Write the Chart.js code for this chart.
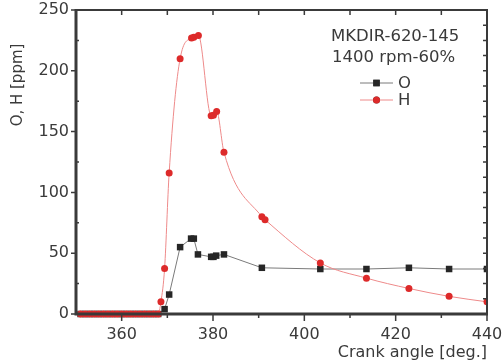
<!DOCTYPE html>
<html>
<head>
<meta charset="utf-8">
<script src="https://cdn.jsdelivr.net/npm/chart.js@4.4.0/dist/chart.umd.min.js"></script>
<style>
  body { margin: 0; background: #fff; }
  #wrap { width: 503px; height: 364px; }
</style>
</head>
<body>
<div id="wrap"><canvas id="chart" width="503" height="364"></canvas></div>
<script>
// data
const zeroAngle = [351, 352, 353, 354, 355, 356, 357, 358, 359, 360, 361, 362, 363, 364, 365, 366, 367, 368];
const oAngle = zeroAngle.concat([369.4, 370.4, 372.8, 375.2, 375.8, 376.7, 379.6, 380.1, 380.7, 382.4, 390.7, 403.5, 413.6, 422.9, 431.7, 440]);
const oValue = zeroAngle.map(() => 0).concat([4, 16, 55, 62, 62, 49, 47, 47, 48, 49, 38, 37, 37, 38, 37, 37]);
const hAngle = zeroAngle.concat([368.6, 369.4, 370.4, 372.8, 375.3, 375.8, 376.8, 379.6, 380.1, 380.8, 382.4, 390.7, 391.4, 403.5, 413.6, 422.9, 431.7, 440]);
const hValue = zeroAngle.map(() => 0).concat([10, 37.5, 116, 210, 227, 227.5, 229, 163, 163.5, 166.5, 133, 80, 77.5, 42, 29.5, 21, 14.5, 10]);
const xTicks = [360, 380, 400, 420, 440];
const yTicks = [0, 50, 100, 150, 200, 250];
const legendLines = ['MKDIR-620-145', '1400 rpm-60%'];

const FONT = '"DejaVu Sans", sans-serif';
const INK = '#3a3a3a';

const toPts = (xs, ys) => xs.map((x, i) => ({ x: x, y: ys[i] }));

// frame, tick marks, y title and legend
const decor = {
  id: 'decor',
  afterDatasetsDraw(chart) {
    const ctx = chart.ctx;
    const a = chart.chartArea;
    const xs = chart.scales.x, ys = chart.scales.y;
    ctx.save();
    ctx.strokeStyle = INK;

    // ticks
    ctx.lineWidth = 1.5;
    ctx.beginPath();
    for (let v = 360; v <= 440; v += 10) {
      const px = xs.getPixelForValue(v);
      const major = v % 20 === 0;
      ctx.moveTo(px, a.bottom); ctx.lineTo(px, a.bottom + (major ? 7 : 4));
      ctx.moveTo(px, a.top); ctx.lineTo(px, a.top + 5);
    }
    for (let v = 0; v <= 250; v += 25) {
      const py = ys.getPixelForValue(v);
      if (v % 50 === 0) { ctx.moveTo(a.left, py); ctx.lineTo(a.left - 5, py); }
      else { ctx.moveTo(a.left, py); ctx.lineTo(a.left + 3, py); }
    }
    for (let v = 12.5; v < 250; v += 12.5) {
      const py = ys.getPixelForValue(v);
      ctx.moveTo(a.right, py); ctx.lineTo(a.right - 4, py);
    }
    ctx.stroke();

    // frame
    ctx.lineWidth = 2;
    ctx.beginPath();
    ctx.moveTo(a.left, a.top); ctx.lineTo(a.right, a.top); ctx.lineTo(a.right, a.bottom);
    ctx.stroke();
    ctx.lineWidth = 3;
    ctx.beginPath();
    ctx.moveTo(a.left, a.top - 1); ctx.lineTo(a.left, a.bottom); ctx.lineTo(a.right + 1, a.bottom);
    ctx.stroke();

    // y title
    ctx.fillStyle = INK;
    ctx.font = '15px ' + FONT;
    ctx.translate(18, 85);
    ctx.rotate(-Math.PI / 2);
    ctx.textAlign = 'center';
    ctx.textBaseline = 'middle';
    ctx.fillText('O, H [ppm]', 0, 0);
    ctx.restore();

    // legend
    ctx.save();
    ctx.fillStyle = INK;
    ctx.font = '16.5px ' + FONT;
    ctx.textBaseline = 'middle';
    ctx.fillText(legendLines[0], 331, 37);
    ctx.fillText(legendLines[1], 332, 58);
    const rows = [83, 100];
    chart.data.datasets.forEach((ds, i) => {
      const y = rows[i];
      ctx.strokeStyle = ds.borderColor;
      ctx.lineWidth = 1;
      ctx.beginPath(); ctx.moveTo(360, y); ctx.lineTo(393, y); ctx.stroke();
      Chart.helpers.drawPoint(ctx, {
        pointStyle: ds.pointStyle, radius: ds.pointRadius, rotation: 0, borderWidth: 0
      }, 376.5, y);
      ctx.fillStyle = ds.pointBackgroundColor;
      ctx.fill();
      ctx.fillStyle = INK;
      ctx.fillText(ds.label, 398, y + 1);
    });
    ctx.restore();
  }
};

new Chart(document.getElementById('chart').getContext('2d'), {
  type: 'line',
  data: {
    datasets: [{
      label: 'O',
      data: toPts(oAngle, oValue),
      borderColor: '#7a7a7a',
      borderWidth: 1,
      pointStyle: 'rect',
      pointRadius: 4.6,
      pointBackgroundColor: '#262626',
      pointBorderWidth: 0,
      tension: 0,
      clip: { left: 10, top: 10, right: 0, bottom: 10 },
      order: 2
    }, {
      label: 'H',
      data: toPts(hAngle, hValue),
      borderColor: '#ee8a8a',
      borderWidth: 1,
      pointStyle: 'circle',
      pointRadius: 3.5,
      pointBackgroundColor: '#dd2a2a',
      pointBorderWidth: 0,
      cubicInterpolationMode: 'monotone',
      clip: { left: 10, top: 10, right: 0, bottom: 10 },
      order: 1
    }]
  },
  options: {
    responsive: false,
    animation: false,
    layout: { padding: { left: 0, right: 16, top: 10, bottom: 0 } },
    plugins: { legend: { display: false }, tooltip: { enabled: false } },
    scales: {
      x: {
        type: 'linear',
        min: 350,
        max: 440,
        afterBuildTicks: s => { s.ticks = xTicks.map(v => ({ value: v })); },
        afterFit: s => { s.height = 50; s.paddingLeft = 0; s.paddingRight = 0; },
        grid: { display: false, drawTicks: false },
        border: { display: false },
        ticks: { color: INK, font: { size: 16, family: FONT }, padding: 11, maxRotation: 0 },
        title: {
          display: true,
          text: 'Crank angle [deg.]',
          align: 'end',
          color: INK,
          font: { size: 16, family: FONT },
          padding: { top: 0, bottom: 2 }
        }
      },
      y: {
        min: 0,
        max: 250,
        afterBuildTicks: s => { s.ticks = yTicks.map(v => ({ value: v })); },
        afterFit: s => { s.width = 76; s.paddingTop = 0; s.paddingBottom = 0; },
        grid: { display: false, drawTicks: false },
        border: { display: false },
        ticks: { color: INK, font: { size: 16, family: FONT }, padding: 7 }
      }
    }
  },
  plugins: [decor]
});
</script>
</body>
</html>
